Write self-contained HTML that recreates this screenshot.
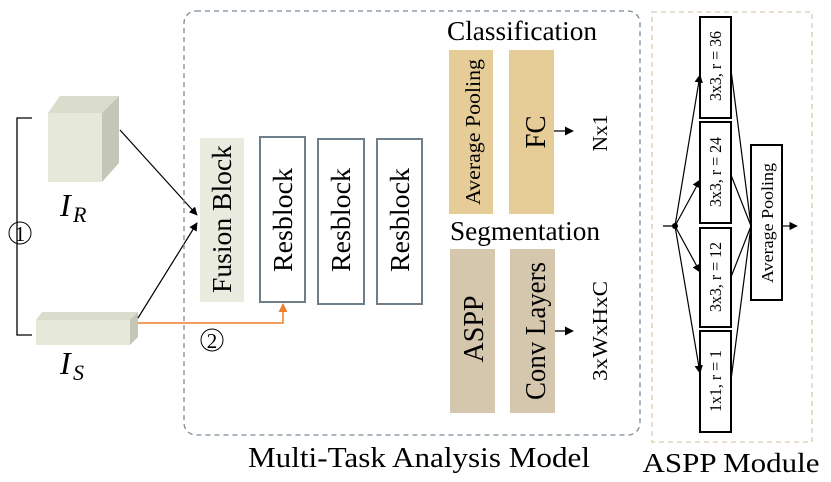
<!DOCTYPE html>
<html><head><meta charset="utf-8"><style>
body{margin:0;background:#fff}
svg{display:block}
text{font-family:"Liberation Serif",serif}
</style></head><body>
<svg width="831" height="482" viewBox="0 0 831 482" xmlns="http://www.w3.org/2000/svg">
<defs>
<marker id="a" viewBox="0 0 10 10" refX="9" refY="5" markerWidth="7" markerHeight="7" orient="auto-start-reverse"><path d="M0,0 L10,5 L0,10 z" fill="#000"/></marker>
<marker id="o" viewBox="0 0 10 10" refX="9" refY="5" markerWidth="6" markerHeight="6" orient="auto"><path d="M0,0 L10,5 L0,10 z" fill="#ef7d2c"/></marker>
</defs>
<!-- left -->
<path d="M32,118 H17 V335 H32" fill="none" stroke="#000" stroke-width="1.3"/>
<circle cx="20" cy="233" r="11" fill="none" stroke="#000" stroke-width="1"/>
<text x="20" y="241" font-size="21" text-anchor="middle">1</text>
<polygon points="48,113 60,96 119,96 102,113" fill="#dadccc"/>
<polygon points="102,113 119,96 119,163 102,182" fill="#c4c6b8"/>
<rect x="48" y="113" width="54" height="69" fill="#e6e8da"/>
<text x="60" y="216" font-size="32" font-style="italic">I</text><text x="73" y="222" font-size="22" font-style="italic">R</text>
<polygon points="36,320 42,312 138,312 130,320" fill="#dadccc"/>
<polygon points="130,320 138,312 138,337 130,345" fill="#c4c6b8"/>
<rect x="36" y="320" width="94" height="25" fill="#e6e8da"/>
<text x="60" y="374" font-size="32" font-style="italic">I</text><text x="73" y="380" font-size="22" font-style="italic">S</text>
<line x1="120" y1="130" x2="197" y2="215" stroke="#000" stroke-width="1.2" marker-end="url(#a)"/>
<line x1="138" y1="318" x2="197" y2="223" stroke="#000" stroke-width="1.2" marker-end="url(#a)"/>
<polyline points="138,323 283,323 283,304" fill="none" stroke="#ef7d2c" stroke-width="1.5" marker-end="url(#o)"/>
<circle cx="212" cy="340" r="11" fill="none" stroke="#000" stroke-width="1"/>
<text x="212" y="348" font-size="21" text-anchor="middle">2</text>
<!-- main box -->
<rect x="184" y="11" width="456" height="424" rx="12" fill="none" stroke="#7a8a96" stroke-width="1.3" stroke-dasharray="5,4"/>
<rect x="200" y="138" width="44" height="164" fill="#e9ebdf"/>
<text transform="translate(231,219) rotate(-90)" font-size="27" text-anchor="middle" textLength="148" lengthAdjust="spacingAndGlyphs">Fusion Block</text>
<g fill="#fff" stroke="#6e7f8a" stroke-width="2">
<rect x="260" y="137" width="45" height="165"/><rect x="318" y="139" width="46" height="165"/><rect x="377" y="139" width="45" height="165"/></g>
<text transform="translate(292,220) rotate(-90)" font-size="27" text-anchor="middle" textLength="104" lengthAdjust="spacingAndGlyphs">Resblock</text>
<text transform="translate(350,220) rotate(-90)" font-size="27" text-anchor="middle" textLength="104" lengthAdjust="spacingAndGlyphs">Resblock</text>
<text transform="translate(409,220) rotate(-90)" font-size="27" text-anchor="middle" textLength="104" lengthAdjust="spacingAndGlyphs">Resblock</text>
<text x="522" y="40" font-size="27" text-anchor="middle" textLength="150" lengthAdjust="spacingAndGlyphs">Classification</text>
<rect x="449" y="50" width="44" height="164" fill="#e6cc97"/>
<rect x="509" y="50" width="45" height="164" fill="#e6cc97"/>
<text transform="translate(480,132) rotate(-90)" font-size="21" text-anchor="middle" textLength="146" lengthAdjust="spacingAndGlyphs">Average Pooling</text>
<text transform="translate(545,132) rotate(-90)" font-size="28" text-anchor="middle" textLength="33" lengthAdjust="spacingAndGlyphs">FC</text>
<line x1="554" y1="131" x2="573" y2="131" stroke="#000" stroke-width="1.3" marker-end="url(#a)"/>
<text transform="translate(607,133) rotate(-90)" font-size="21" text-anchor="middle" textLength="37" lengthAdjust="spacingAndGlyphs">Nx1</text>
<text x="525" y="240" font-size="27" text-anchor="middle" textLength="150" lengthAdjust="spacingAndGlyphs">Segmentation</text>
<rect x="450" y="249" width="45" height="164" fill="#d5c6ae"/>
<rect x="510" y="249" width="45" height="164" fill="#d5c6ae"/>
<text transform="translate(483,329) rotate(-90)" font-size="28" text-anchor="middle" textLength="67" lengthAdjust="spacingAndGlyphs">ASPP</text>
<text transform="translate(545,331) rotate(-90)" font-size="28" text-anchor="middle" textLength="138" lengthAdjust="spacingAndGlyphs">Conv Layers</text>
<line x1="555" y1="331" x2="573" y2="331" stroke="#000" stroke-width="1.3" marker-end="url(#a)"/>
<text transform="translate(607,331) rotate(-90)" font-size="21" text-anchor="middle" textLength="100" lengthAdjust="spacingAndGlyphs">3xWxHxC</text>
<text x="419" y="467" font-size="29" text-anchor="middle" textLength="342" lengthAdjust="spacingAndGlyphs">Multi-Task Analysis Model</text>
<!-- ASPP -->
<rect x="652" y="12" width="160" height="430" fill="none" stroke="#d8c9b0" stroke-width="1.3" stroke-dasharray="5,4"/>
<g fill="#fff" stroke="#000" stroke-width="2">
<rect x="700" y="17" width="31" height="101"/><rect x="700" y="122" width="31" height="101"/>
<rect x="700" y="228" width="31" height="99"/><rect x="700" y="331" width="31" height="101"/>
<rect x="751" y="145" width="31" height="155"/></g>
<g font-size="17" text-anchor="middle">
<text transform="translate(721,66) rotate(-90)" textLength="70" lengthAdjust="spacingAndGlyphs">3x3, r = 36</text>
<text transform="translate(721,172) rotate(-90)" textLength="70" lengthAdjust="spacingAndGlyphs">3x3, r = 24</text>
<text transform="translate(721,277) rotate(-90)" textLength="70" lengthAdjust="spacingAndGlyphs">3x3, r = 12</text>
<text transform="translate(721,381) rotate(-90)" textLength="62" lengthAdjust="spacingAndGlyphs">1x1, r = 1</text>
<text transform="translate(773,223) rotate(-90)" textLength="120" lengthAdjust="spacingAndGlyphs">Average Pooling</text></g>
<line x1="663" y1="226" x2="675" y2="226" stroke="#000" stroke-width="1.3"/>
<circle cx="675" cy="226" r="3" fill="#000"/>
<g stroke="#000" stroke-width="1.2" fill="none">
<line x1="675" y1="226" x2="700" y2="75" marker-end="url(#a)"/>
<line x1="675" y1="226" x2="700" y2="180" marker-end="url(#a)"/>
<line x1="675" y1="226" x2="700" y2="272" marker-end="url(#a)"/>
<line x1="675" y1="226" x2="700" y2="373" marker-end="url(#a)"/>
<line x1="731" y1="70" x2="751" y2="226"/><line x1="731" y1="175" x2="751" y2="226"/>
<line x1="731" y1="277" x2="751" y2="226"/><line x1="731" y1="380" x2="751" y2="226"/>
<line x1="782" y1="226" x2="797" y2="226" marker-end="url(#a)"/></g>
<text x="731" y="472" font-size="27" text-anchor="middle" textLength="177" lengthAdjust="spacingAndGlyphs">ASPP Module</text>
</svg>
</body></html>
